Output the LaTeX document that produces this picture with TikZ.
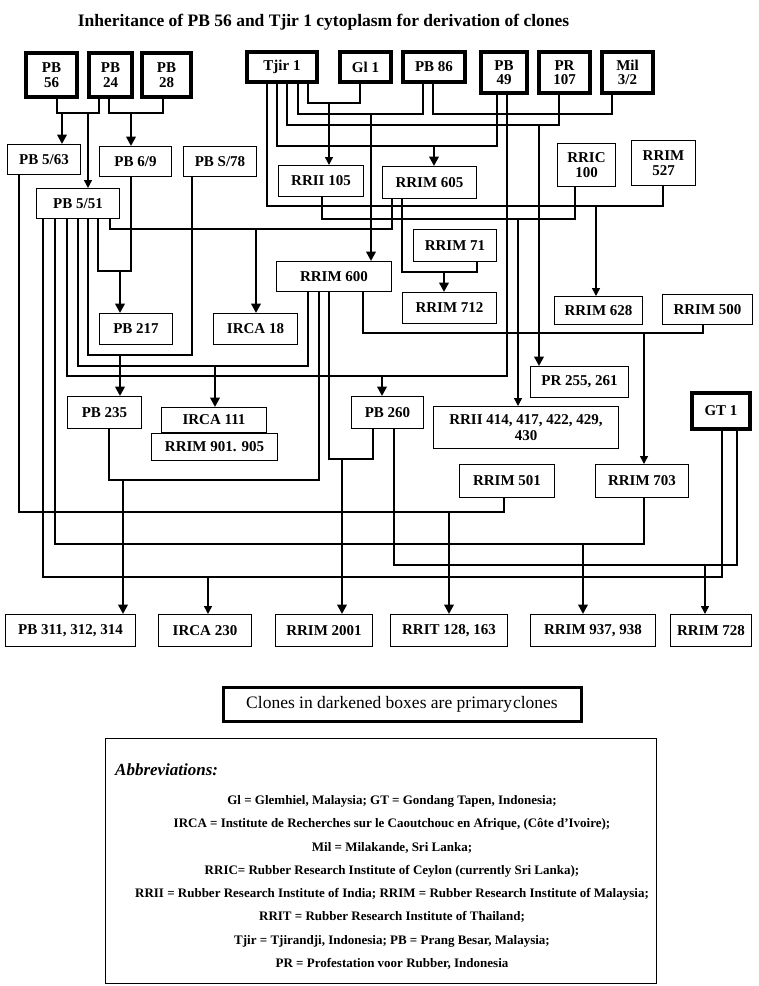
\documentclass[tikz,border=0pt]{standalone}
\usepackage{fontspec}
\setmainfont{Liberation Serif}
\usetikzlibrary{arrows.meta}

\begin{document}
\begin{tikzpicture}[
  every node/.style={inner sep=0pt, align=center, font=\fontsize{15}{14.5}\selectfont\bfseries},
  prim/.style={draw, line width=3.5pt},
  clone/.style={draw, line width=1.4pt},
  link/.style={line width=1.4pt},
  arr/.style={line width=1.4pt, -{Triangle[length=8pt,width=8pt]}},
  arrthick/.style={line width=2.8pt, -{Triangle[length=9.5pt,width=9.5pt]}}
]
\useasboundingbox (0pt,0pt) rectangle (759pt,-986pt);
\node (title) [font=\fontsize{17.5}{18}\selectfont\bfseries] at (323.5pt, -22pt) {Inheritance of PB 56 and Tjir 1 cytoplasm for derivation of clones};

% primary clones
\node (pb56) [prim, minimum width=51pt, minimum height=44pt] at (51.5pt, -75pt) {PB\\56};
\node (pb24) [prim, minimum width=43pt, minimum height=44pt] at (110.5pt, -75pt) {PB\\24};
\node (pb28) [prim, minimum width=49pt, minimum height=44pt] at (166.5pt, -75pt) {PB\\28};
\node (tjir) [prim, minimum width=70pt, minimum height=30pt] at (282pt, -67pt) {Tjir 1};
\node (gl1) [prim, minimum width=51pt, minimum height=30pt] at (365.5pt, -67pt) {Gl 1};
\node (pb86) [prim, minimum width=62pt, minimum height=30pt] at (434pt, -67pt) {PB 86};
\node (pb49) [prim, minimum width=46pt, minimum height=41pt] at (504pt, -72.5pt) {PB\\49};
\node (pr107) [prim, minimum width=51pt, minimum height=41pt] at (564.5pt, -72.5pt) {PR\\107};
\node (mil) [prim, minimum width=51pt, minimum height=41pt] at (627.5pt, -72.5pt) {Mil\\3/2};
\node (gt1) [prim, minimum width=58pt, minimum height=36pt] at (721pt, -411pt) {GT 1};

% derived clones
\node (pb563) [clone, minimum width=72.6pt, minimum height=29.6pt] at (44pt, -159.5pt) {PB 5/63};
\node (pb69) [clone, minimum width=71.6pt, minimum height=29.6pt] at (135.5pt, -161.5pt) {PB 6/9};
\node (pbs78) [clone, minimum width=72.6pt, minimum height=29.6pt] at (220pt, -161.5pt) {PB S/78};
\node (pb551) [clone, minimum width=82.6pt, minimum height=29.6pt] at (78pt, -203.5pt) {PB 5/51};
\node (rrii105) [clone, minimum width=84.6pt, minimum height=30.6pt] at (321pt, -181pt) {RRII 105};
\node (rrim605) [clone, minimum width=93.6pt, minimum height=31.6pt] at (429.5pt, -182.5pt) {RRIM 605};
\node (rric100) [clone, minimum width=57.6pt, minimum height=42.6pt] at (586.5pt, -165pt) {RRIC\\100};
\node (rrim527) [clone, minimum width=63.6pt, minimum height=44.6pt] at (663.5pt, -163pt) {RRIM\\527};
\node (rrim71) [clone, minimum width=82.6pt, minimum height=31.6pt] at (455pt, -245.5pt) {RRIM 71};
\node (rrim600) [clone, minimum width=114.6pt, minimum height=29.6pt] at (334pt, -276.5pt) {RRIM 600};
\node (rrim712) [clone, minimum width=93.6pt, minimum height=30.6pt] at (449.5pt, -308pt) {RRIM 712};
\node (rrim628) [clone, minimum width=87.6pt, minimum height=27.6pt] at (598.5pt, -310.5pt) {RRIM 628};
\node (rrim500) [clone, minimum width=89.6pt, minimum height=29.6pt] at (707.5pt, -309.5pt) {RRIM 500};
\node (pb217) [clone, minimum width=72.6pt, minimum height=30.6pt] at (136pt, -329pt) {PB 217};
\node (irca18) [clone, minimum width=83.6pt, minimum height=30.6pt] at (255.5pt, -329pt) {IRCA 18};
\node (pr255) [clone, minimum width=97.6pt, minimum height=30.6pt] at (579.5pt, -382pt) {PR 255, 261};
\node (pb235) [clone, minimum width=73.6pt, minimum height=31.6pt] at (104.5pt, -412.5pt) {PB 235};
\node (irca111) [clone, minimum width=104.6pt, minimum height=24.6pt] at (214pt, -420pt) {IRCA 111};
\node (rrim901) [clone, minimum width=125.6pt, minimum height=26.6pt] at (214.5pt, -447pt) {RRIM 901. 905};
\node (pb260) [clone, minimum width=71.6pt, minimum height=31.6pt] at (387.5pt, -412.5pt) {PB 260};
\node (rrii414) [clone, minimum width=184.6pt, minimum height=41.6pt, font=\fontsize{15}{16}\selectfont\bfseries] at (526pt, -427.5pt) {RRII 414, 417, 422, 429,\\430};
\node (rrim501) [clone, minimum width=94.6pt, minimum height=32.6pt] at (507pt, -481pt) {RRIM 501};
\node (rrim703) [clone, minimum width=92.6pt, minimum height=32.6pt] at (642pt, -481pt) {RRIM 703};
\node (pb311) [clone, minimum width=129.6pt, minimum height=31.6pt] at (70.5pt, -630.5pt) {PB 311, 312, 314};
\node (irca230) [clone, minimum width=92.6pt, minimum height=31.6pt] at (205pt, -630.5pt) {IRCA 230};
\node (rrim2001) [clone, minimum width=96.6pt, minimum height=31.6pt] at (324pt, -630.5pt) {RRIM 2001};
\node (rrit) [clone, minimum width=116.6pt, minimum height=31.6pt] at (449pt, -630.5pt) {RRIT 128, 163};
\node (rrim937) [clone, minimum width=124.6pt, minimum height=31.6pt] at (593pt, -630.5pt) {RRIM 937, 938};
\node (rrim728) [clone, minimum width=80.6pt, minimum height=31.6pt] at (711pt, -630.5pt) {RRIM 728};

% junction points
\coordinate (jA) at (62pt, -113pt);
\coordinate (jA2) at (88pt, -113pt);
\coordinate (jB) at (131pt, -113pt);
\coordinate (jC) at (329pt, -103pt);
\coordinate (jD) at (371pt, -114pt);
\coordinate (jE) at (520pt, -114pt);
\coordinate (jF) at (539pt, -125pt);
\coordinate (jG) at (434pt, -146pt);
\coordinate (jH) at (596pt, -206pt);
\coordinate (jI) at (518pt, -219pt);
\coordinate (jJ) at (256pt, -229pt);
\coordinate (jK) at (444pt, -272pt);
\coordinate (jL) at (120pt, -271pt);
\coordinate (jM) at (120pt, -355pt);
\coordinate (jN) at (215pt, -366pt);
\coordinate (jO) at (382pt, -376pt);
\coordinate (jP) at (644pt, -333pt);
\coordinate (jQ) at (123pt, -480pt);
\coordinate (jR) at (342pt, -459pt);
\coordinate (jS) at (449pt, -512pt);
\coordinate (jT) at (583pt, -544pt);
\coordinate (jU) at (705pt, -565pt);
\coordinate (jV) at (208pt, -577pt);

% crosses
\draw [link] (pb56.south -| 57pt,0) |- (jA) -| (pb24.south -| 99pt,0);
\draw [link] (pb24.south -| 109pt,0) |- (jB) -| (pb28.south -| 163pt,0);
\draw [link] (tjir.south -| 308pt,0) |- (jC) -| (gl1.south -| 360pt,0);
\draw [link] (tjir.south -| 298pt,0) |- (jD) -| (pb86.south -| 423pt,0);
\draw [link] (pb86.south -| 433pt,0) |- (jE) -| (mil.south -| 612pt,0);
\draw [link] (tjir.south -| 287pt,0) |- (jF) -| (pr107.south -| 559pt,0);
\draw [link] (tjir.south -| 277pt,0) |- (jG) -| (pb49.south -| 497pt,0);
\draw [link] (tjir.south -| 267pt,0) |- (jH) -| (rrim527.south -| 663pt,0);
\draw [link] (rrii105.south -| 322pt,0) |- (jI) -| (rric100.south -| 575pt,0);
\draw [link] (pb551.south -| 110pt,0) |- (jJ) -| (rrim605.south -| 392pt,0);
\draw [link] (rrim605.south -| 402pt,0) |- (jK) -| (rrim71.south -| 477pt,0);
\draw [link] (pb551.south -| 98pt,0) |- (jL) -| (pb69.south -| 131pt,0);
\draw [link] (pb551.south -| 88pt,0) |- (jM) -| (pbs78.south -| 192pt,0);
\draw [link] (pb551.south -| 78pt,0) |- (jN) -| (rrim600.south -| 308pt,0);
\draw [link] (pb551.south -| 67pt,0) |- (jO) -| (pb49.south -| 507pt,0);
\draw [link] (rrim600.south -| 363pt,0) |- (jP) -| (rrim500.south -| 703pt,0);
\draw [link] (pb235.south -| 109pt,0) |- (jQ) -| (rrim600.south -| 319pt,0);
\draw [link] (rrim600.south -| 329pt,0) |- (jR) -| (pb260.south -| 373pt,0);
\draw [link] (pb563.south -| 19pt,0) |- (jS) -| (rrim501.south -| 504pt,0);
\draw [link] (pb551.south -| 55pt,0) |- (jT) -| (rrim703.south -| 644pt,0);
\draw [link] (pb260.south -| 394pt,0) |- (jU) -| (gt1.south -| 737pt,0);
\draw [link] (pb551.south -| 43pt,0) |- (jV) -| (gt1.south -| 722pt,0);

% offspring
\draw [arrthick] (jA) -- (jA |- pb563.north);
\draw [arr] (jA2) -- (jA2 |- pb551.north);
\draw [arrthick] (jB) -- (jB |- pb69.north);
\draw [arr] (jC) -- (jC |- rrii105.north);
\draw [arrthick] (jD) -- (jD |- rrim600.north);
\draw [arrthick] (jF) -- (jF |- pr255.north);
\draw [arrthick] (jG) -- (jG |- rrim605.north);
\draw [arr] (jH) -- (jH |- rrim628.north);
\draw [arr] (jI) -- (jI |- rrii414.north);
\draw [arrthick] (jJ) -- (jJ |- irca18.north);
\draw [arrthick] (jK) -- (jK |- rrim712.north);
\draw [arrthick] (jL) -- (jL |- pb217.north);
\draw [arrthick] (jM) -- (jM |- pb235.north);
\draw [arrthick] (jN) -- (jN |- irca111.north);
\draw [arrthick] (jO) -- (jO |- pb260.north);
\draw [arr] (jP) -- (jP |- rrim703.north);
\draw [arrthick] (jQ) -- (jQ |- pb311.north);
\draw [arrthick] (jR) -- (jR |- rrim2001.north);
\draw [arrthick] (jS) -- (jS |- rrit.north);
\draw [arrthick] (jT) -- (jT |- rrim937.north);
\draw [arr] (jU) -- (jU |- rrim728.north);
\draw [arr] (jV) -- (jV |- irca230.north);

% legend
\node (note) [draw, line width=3pt, minimum width=358pt, minimum height=34pt, font=\fontsize{17.5}{18}\selectfont] at (402pt, -704pt) {Clones in darkened boxes are primary\hspace{1pt}clones};
\node (abbrbox) [clone, minimum width=551pt, minimum height=245pt] at (381pt, -861pt) {};
\node (abbrhead) [anchor=west, font=\fontsize{17}{18}\selectfont\bfseries\itshape] at (115pt, -770pt) {Abbreviations:};
\node (abbr) [font=\fontsize{13}{23.3}\selectfont\bfseries] at (392pt, -882.5pt) {Gl = Glemhiel, Malaysia; GT = Gondang Tapen, Indonesia;\\
IRCA = Institute de Recherches sur le Caoutchouc en Afrique, (Côte d'Ivoire);\\
Mil = Milakande, Sri Lanka;\\
RRIC= Rubber Research Institute of Ceylon (currently Sri Lanka);\\
RRII = Rubber Research Institute of India; RRIM = Rubber Research Institute of Malaysia;\\
RRIT = Rubber Research Institute of Thailand;\\
Tjir = Tjirandji, Indonesia; PB = Prang Besar, Malaysia;\\
PR = Profestation voor Rubber, Indonesia};
\end{tikzpicture}
\end{document}
